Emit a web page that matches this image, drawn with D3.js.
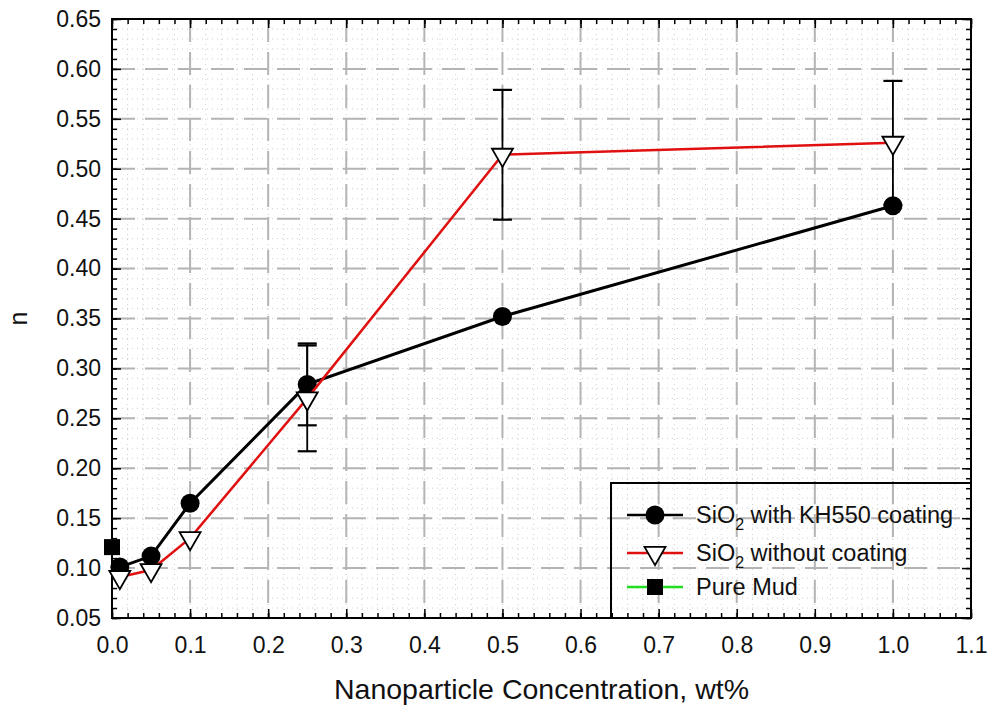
<!DOCTYPE html>
<html>
<head>
<meta charset="utf-8">
<script src="https://cdn.jsdelivr.net/npm/d3@7"></script>
<style>
  body { margin: 0; background: #fff; }
  text { font-family: Arial, "Liberation Sans", sans-serif; fill: #111; }
</style>
</head>
<body>
<div id="chart"></div>
<script>
// Data
const coatedX = [0.01, 0.05, 0.1, 0.25, 0.5, 1.0];
const coatedY = [0.101, 0.112, 0.165, 0.284, 0.352, 0.463];
const coatedErr = [0, 0, 0, 0.041, 0, 0];

const uncoatedX = [0.01, 0.05, 0.1, 0.25, 0.5, 1.0];
const uncoatedY = [0.091, 0.098, 0.130, 0.270, 0.514, 0.526];
const uncoatedErr = [0, 0, 0, 0.053, 0.065, 0.062];

const pureMudX = [0];
const pureMudY = [0.121];

const xTicks = [0, 0.1, 0.2, 0.3, 0.4, 0.5, 0.6, 0.7, 0.8, 0.9, 1.0, 1.1];
const yTicks = [0.05, 0.10, 0.15, 0.20, 0.25, 0.30, 0.35, 0.40, 0.45, 0.50, 0.55, 0.60, 0.65];

const width = 989, height = 713;
const margin = { top: 19, right: 18, bottom: 95, left: 112 };
const plotW = width - margin.left - margin.right;
const plotH = height - margin.top - margin.bottom;

const svg = d3.select('#chart').append('svg')
  .attr('width', width)
  .attr('height', height);

const x = d3.scaleLinear().domain([0, 1.1]).range([0, plotW]);
const y = d3.scaleLinear().domain([0.05, 0.65]).range([plotH, 0]);

const chart = svg.append('g')
  .attr('transform', `translate(${margin.left},${margin.top})`);

// minor dotted grid
const xMinor = d3.range(0, 1.1001, 0.02);
const yMinor = d3.range(0.05, 0.6501, 0.01);
chart.append('g').selectAll('line').data(xMinor).enter().append('line')
  .attr('x1', d => x(d)).attr('x2', d => x(d))
  .attr('y1', 0).attr('y2', plotH)
  .attr('stroke', '#cfcfcf').attr('stroke-width', 1).attr('stroke-dasharray', '1,4');
chart.append('g').selectAll('line').data(yMinor).enter().append('line')
  .attr('y1', d => y(d)).attr('y2', d => y(d))
  .attr('x1', 0).attr('x2', plotW)
  .attr('stroke', '#cfcfcf').attr('stroke-width', 1).attr('stroke-dasharray', '1,4');

// major dashed grid
chart.append('g').selectAll('line').data(xTicks).enter().append('line')
  .attr('x1', d => x(d)).attr('x2', d => x(d))
  .attr('y1', 0).attr('y2', plotH)
  .attr('stroke', '#b4b4b4').attr('stroke-width', 2).attr('stroke-dasharray', '23,10');
chart.append('g').selectAll('line').data(yTicks).enter().append('line')
  .attr('y1', d => y(d)).attr('y2', d => y(d))
  .attr('x1', 0).attr('x2', plotW)
  .attr('stroke', '#b4b4b4').attr('stroke-width', 2).attr('stroke-dasharray', '23,10');

// axes with inward ticks on all sides
function styleAxis(g) {
  g.select('.domain').remove();
  g.selectAll('.tick line').attr('stroke', '#000').attr('stroke-width', 1.5);
  g.selectAll('.tick text').style('font-size', '23px').attr('fill', '#111');
}
const fmt2 = d3.format('.2f'), fmt1 = d3.format('.1f');

chart.append('g').attr('transform', `translate(0,${plotH})`)
  .call(d3.axisBottom(x).tickValues(xMinor).tickSize(-5).tickFormat(''))
  .call(styleAxis);
chart.append('g').attr('transform', `translate(0,${plotH})`)
  .call(d3.axisBottom(x).tickValues(xTicks).tickSize(-9).tickPadding(19).tickFormat(fmt1))
  .call(styleAxis);
chart.append('g')
  .call(d3.axisTop(x).tickValues(xMinor).tickSize(-5).tickFormat(''))
  .call(styleAxis);
chart.append('g')
  .call(d3.axisTop(x).tickValues(xTicks).tickSize(-9).tickFormat(''))
  .call(styleAxis);
chart.append('g')
  .call(d3.axisLeft(y).tickValues(yMinor).tickSize(-5).tickFormat(''))
  .call(styleAxis);
chart.append('g')
  .call(d3.axisLeft(y).tickValues(yTicks).tickSize(-9).tickPadding(11).tickFormat(fmt2))
  .call(styleAxis);
chart.append('g').attr('transform', `translate(${plotW},0)`)
  .call(d3.axisRight(y).tickValues(yMinor).tickSize(-5).tickFormat(''))
  .call(styleAxis);
chart.append('g').attr('transform', `translate(${plotW},0)`)
  .call(d3.axisRight(y).tickValues(yTicks).tickSize(-9).tickFormat(''))
  .call(styleAxis);

// frame
chart.append('rect')
  .attr('width', plotW).attr('height', plotH)
  .attr('fill', 'none').attr('stroke', '#000').attr('stroke-width', 2);

// axis titles
svg.append('text')
  .attr('x', margin.left + plotW / 2).attr('y', 699)
  .attr('text-anchor', 'middle').style('font-size', '28.5px')
  .text('Nanoparticle Concentration, wt%');
svg.append('text')
  .attr('transform', `translate(27,${margin.top + plotH / 2}) rotate(-90)`)
  .attr('text-anchor', 'middle').style('font-size', '25px')
  .text('n');

const line = d3.line().x(d => x(d[0])).y(d => y(d[1]));
const coated = coatedX.map((d, i) => [d, coatedY[i], coatedErr[i]]);
const uncoated = uncoatedX.map((d, i) => [d, uncoatedY[i], uncoatedErr[i]]);
const pureMud = pureMudX.map((d, i) => [d, pureMudY[i]]);

const tri = d3.symbol().type(d3.symbolTriangle).size(190);

function errorBars(data) {
  const g = chart.append('g');
  data.filter(d => d[2] > 0).forEach(d => {
    const cx = x(d[0]);
    g.append('line').attr('x1', cx).attr('x2', cx)
      .attr('y1', y(d[1] - d[2])).attr('y2', y(d[1] + d[2]))
      .attr('stroke', '#000').attr('stroke-width', 1.8);
    [d[1] - d[2], d[1] + d[2]].forEach(v => {
      g.append('line').attr('x1', cx - 9.5).attr('x2', cx + 9.5)
        .attr('y1', y(v)).attr('y2', y(v))
        .attr('stroke', '#000').attr('stroke-width', 2.2);
    });
  });
}

errorBars(coated);
errorBars(uncoated);

// coated series
chart.append('path').datum(coated).attr('d', line)
  .attr('fill', 'none').attr('stroke', '#000').attr('stroke-width', 3);
chart.append('g').selectAll('circle').data(coated).enter().append('circle')
  .attr('cx', d => x(d[0])).attr('cy', d => y(d[1])).attr('r', 9.5)
  .attr('fill', '#000');

// uncoated series
chart.append('path').datum(uncoated).attr('d', line)
  .attr('fill', 'none').attr('stroke', '#e01010').attr('stroke-width', 2.5);
chart.append('g').selectAll('path').data(uncoated).enter().append('path')
  .attr('d', tri)
  .attr('transform', d => `translate(${x(d[0])},${y(d[1])}) rotate(180)`)
  .attr('fill', '#fff').attr('stroke', '#000').attr('stroke-width', 1.8);

// pure mud
chart.append('g').selectAll('rect').data(pureMud).enter().append('rect')
  .attr('x', d => x(d[0]) - 8).attr('y', d => y(d[1]) - 8)
  .attr('width', 16).attr('height', 16).attr('fill', '#000');

// legend
const legendRows = [
  { name: 'SiO', sub: '2', rest: ' with KH550 coating', color: '#000', marker: 'circle' },
  { name: 'SiO', sub: '2', rest: ' without coating', color: '#e01010', marker: 'tri' },
  { name: 'Pure Mud', sub: '', rest: '', color: '#22dd22', marker: 'square' }
];
const legend = svg.append('g');
legend.append('rect')
  .attr('x', 611).attr('y', 483)
  .attr('width', margin.left + plotW - 611).attr('height', margin.top + plotH - 483)
  .attr('fill', 'none').attr('stroke', '#000').attr('stroke-width', 2);
const rowY = [515, 553, 587];
legendRows.forEach((r, i) => {
  const g = legend.append('g').attr('transform', `translate(0,${rowY[i]})`);
  g.append('line').attr('x1', 627).attr('x2', 683).attr('y1', 0).attr('y2', 0)
    .attr('stroke', r.color).attr('stroke-width', 2.6);
  if (r.marker === 'circle') {
    g.append('circle').attr('cx', 655).attr('cy', 0).attr('r', 9.5).attr('fill', '#000');
  } else if (r.marker === 'tri') {
    g.append('path').attr('d', tri).attr('transform', 'translate(655,0) rotate(180)')
      .attr('fill', '#fff').attr('stroke', '#000').attr('stroke-width', 1.8);
  } else {
    g.append('rect').attr('x', 647).attr('y', -8).attr('width', 16).attr('height', 16).attr('fill', '#000');
  }
  const t = g.append('text').attr('x', 696).attr('y', 8).style('font-size', '23.5px');
  t.append('tspan').text(r.name);
  if (r.sub) {
    t.append('tspan').attr('dy', 7).style('font-size', '16px').text(r.sub);
    t.append('tspan').attr('dy', -7).text(r.rest);
  }
});
</script>
</body>
</html>
